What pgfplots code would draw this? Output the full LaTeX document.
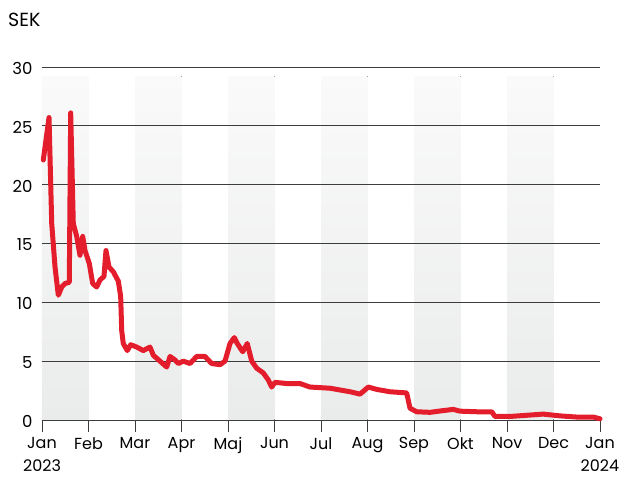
\documentclass[border=0pt]{standalone}
\usepackage{fontspec}
\setmainfont{Poppins}
\usepackage{pgfplots}
\pgfplotsset{compat=1.18}
\usepackage{pgfplotstable}
\definecolor{linered}{RGB}{228,29,44}
\definecolor{bandtop}{RGB}{250,250,250}
\definecolor{bandbot}{RGB}{234,235,235}
\definecolor{gridc}{RGB}{60,60,60}
\pgfplotstableread{
m v
0.028 22.1
0.151 25.7
0.209 16.7
0.280 13.0
0.351 10.6
0.424 11.3
0.495 11.6
0.587 11.7
0.617 26.1
0.673 16.7
0.746 15.6
0.817 14.0
0.875 15.6
0.925 14.4
1.017 13.3
1.090 11.6
1.176 11.3
1.247 11.9
1.333 12.2
1.376 14.4
1.441 13.0
1.533 12.6
1.641 11.8
1.692 10.5
1.714 7.6
1.748 6.5
1.834 5.9
1.908 6.4
2.037 6.2
2.178 5.9
2.323 6.2
2.394 5.5
2.538 5.0
2.682 4.5
2.753 5.4
2.860 5.1
2.931 4.8
3.039 5.0
3.183 4.8
3.327 5.4
3.505 5.4
3.649 4.8
3.828 4.7
3.935 5.0
4.043 6.5
4.135 7.0
4.200 6.5
4.316 5.8
4.415 6.5
4.510 5.0
4.617 4.4
4.759 4.0
4.867 3.4
4.940 2.8
5.011 3.2
5.262 3.1
5.548 3.1
5.763 2.8
6.194 2.7
6.624 2.4
6.839 2.2
7.017 2.8
7.198 2.6
7.484 2.4
7.843 2.3
7.914 1.0
8.058 0.7
8.344 0.65
8.630 0.8
8.845 0.9
8.989 0.75
9.348 0.7
9.671 0.7
9.742 0.3
10.065 0.3
10.424 0.4
10.781 0.5
11.140 0.35
11.499 0.25
11.856 0.25
12.0 0.1
}\sek
\begin{document}
\begin{tikzpicture}[x=1pt,y=1pt]
\path[use as bounding box] (0,0) rectangle (622,481);
\node[anchor=base west, inner sep=0pt, font=\fontsize{19}{22}\selectfont] at (8,454) {SEK};
\begin{axis}[
  at={(42pt,61pt)}, anchor=south west,
  scale only axis, width=558pt, height=353pt,
  xmin=0, xmax=12, ymin=0, ymax=30,
  axis x line*=bottom, axis y line*=left,
  x axis line style={draw=gridc, line width=0.9pt, -},
  y axis line style={draw=none},
  xtick={0,1,2,3,4,5,6,7,8,9,10,11,12},
  xticklabels={{Jan\\2023},Feb,Mar,Apr,Maj,Jun,Jul,Aug,Sep,Okt,Nov,Dec,{Jan\\2024}},
  xtick align=outside,
  major tick length=12pt,
  xtick style={draw=gridc, line width=0.9pt},
  ytick={0,5,10,15,20,25,30},
  ytick style={draw=none},
  /pgf/number format/assume math mode=true,
  xticklabel style={font=\fontsize{16}{23}\selectfont, align=center, anchor=north, yshift=-2pt},
  yticklabel style={font=\fontsize{16.5}{20}\selectfont, anchor=east, xshift=-6pt, yshift=-1.5pt},
  clip=false,
]
\pgfplotsinvokeforeach{0,2,4,6,8,10}{
  \fill[top color=bandtop, bottom color=bandbot, draw=none] (axis cs:#1,0) rectangle (axis cs:#1+1,29.2);
}
\pgfplotsinvokeforeach{5,10,15,20,25,30}{
  \draw[gridc, line width=0.9pt] (axis cs:0,#1) -- (axis cs:12,#1);
}
\addplot[linered, line width=5pt, line join=round, line cap=round] table[x=m, y=v] {\sek};
\end{axis}
\end{tikzpicture}
\end{document}
